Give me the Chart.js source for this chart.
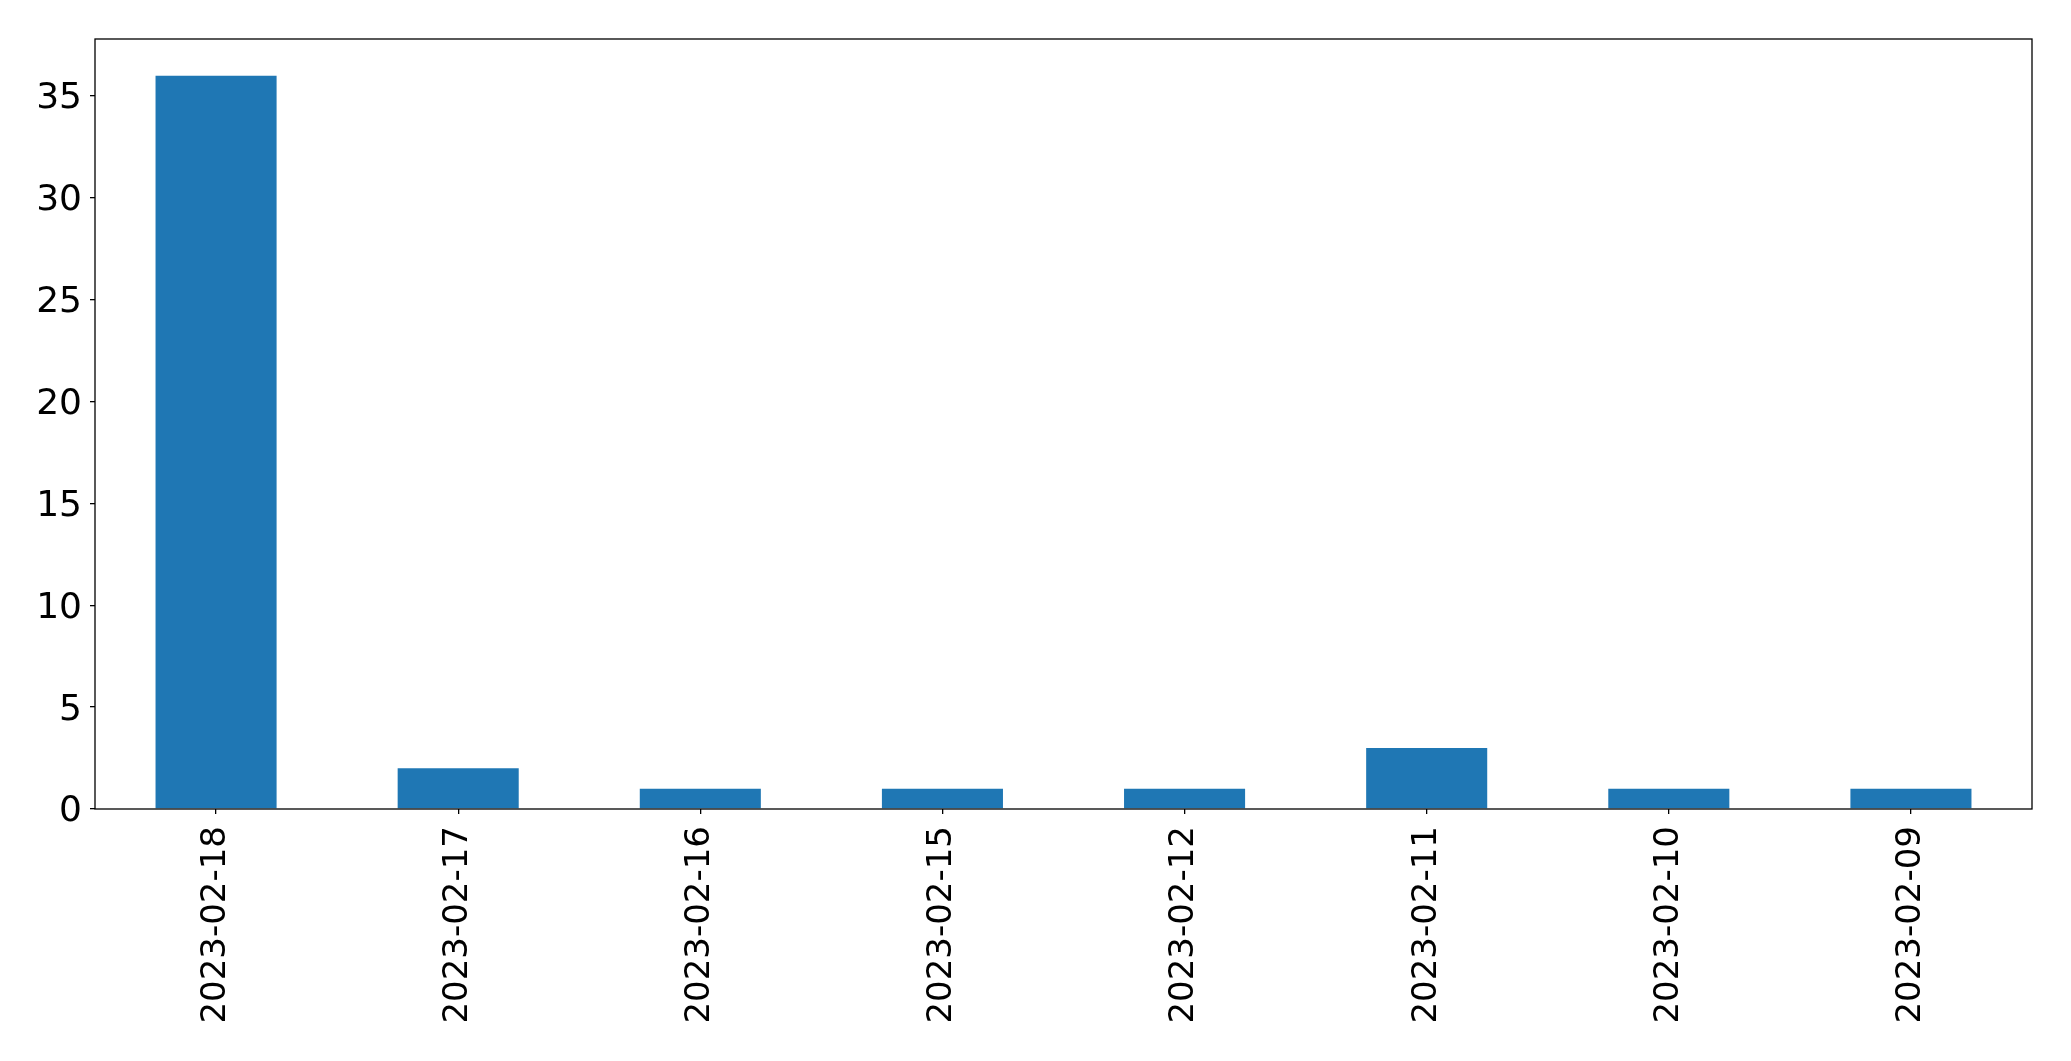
<!DOCTYPE html>
<html>
<head>
<meta charset="utf-8">
<script src="https://cdn.jsdelivr.net/npm/chart.js@4/dist/chart.umd.min.js"></script>
<style>
html,body{margin:0;padding:0;background:#fff;}
#wrap{width:2071px;height:1061px;position:relative;}
</style>
</head>
<body>
<div id="wrap"><canvas id="c" width="2071" height="1061"></canvas></div>
<script>
const categories = ["2023-02-18","2023-02-17","2023-02-16","2023-02-15","2023-02-12","2023-02-11","2023-02-10","2023-02-09"];
const counts = [36, 2, 1, 1, 1, 3, 1, 1];
const yTicks = [0, 5, 10, 15, 20, 25, 30, 35];
const yMax = 37.8;

const framePlugin = {
  id: 'frame',
  afterDraw(chart) {
    const a = chart.chartArea, ctx = chart.ctx;
    ctx.save();
    ctx.strokeStyle = '#000';
    ctx.lineWidth = 1.3;
    ctx.strokeRect(a.left, a.top, a.right - a.left, a.bottom - a.top);
    ctx.restore();
  }
};

new Chart(document.getElementById('c'), {
  type: 'bar',
  data: {
    labels: categories,
    datasets: [{
      data: counts,
      backgroundColor: '#1f77b4',
      borderWidth: 0,
      barPercentage: 0.5,
      categoryPercentage: 1.0
    }]
  },
  options: {
    responsive: false,
    animation: false,
    devicePixelRatio: 1,
    layout: { padding: { left: 0, right: 39, top: 39, bottom: 0 } },
    plugins: { legend: { display: false }, tooltip: { enabled: false } },
    scales: {
      x: {
        offset: true,
        grid: { display: true, offset: false, drawOnChartArea: false, drawTicks: true, tickLength: 5, color: '#000', lineWidth: 1.3 },
        border: { display: false },
        ticks: { color: '#000', font: { family: 'DejaVu Sans', size: 34 }, maxRotation: 90, minRotation: 90, padding: 12, autoSkip: false },
        afterFit(s) { s.height = 252; }
      },
      y: {
        min: 0,
        max: yMax,
        afterBuildTicks(s) { s.ticks = yTicks.map(v => ({ value: v })); },
        grid: { display: true, drawOnChartArea: false, drawTicks: true, tickLength: 5, color: '#000', lineWidth: 1.3 },
        border: { display: false },
        ticks: { color: '#000', font: { family: 'DejaVu Sans', size: 36 }, padding: 8, labelOffset: 3 },
        afterFit(s) { s.width = 95; }
      }
    }
  },
  plugins: [framePlugin]
});
</script>
</body>
</html>
